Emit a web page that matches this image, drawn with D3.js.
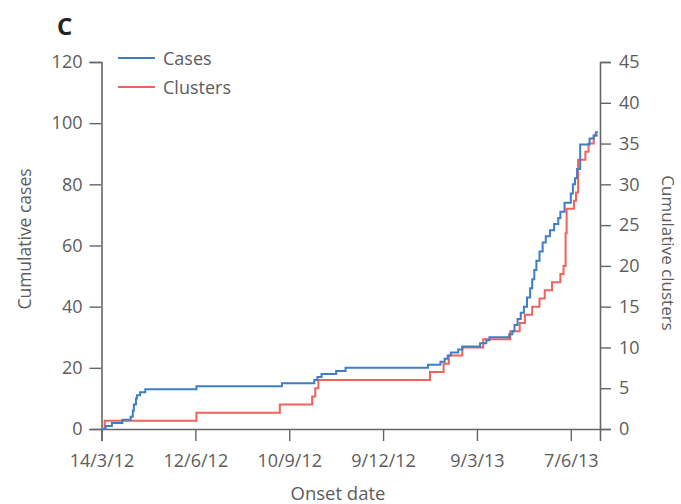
<!DOCTYPE html>
<html>
<head>
<meta charset="utf-8">
<script src="https://cdn.jsdelivr.net/npm/d3@7"></script>
<style>
  html, body { margin: 0; padding: 0; background: #fff; }
  svg { display: block; font-family: "Open Sans", "Noto Sans", sans-serif; }
</style>
</head>
<body>
<svg id="chart" width="681" height="504"></svg>
<script>
// ---- Data ----
const caseDates = [
  "2012-03-14","2012-03-18","2012-03-24","2012-04-03","2012-04-11","2012-04-13","2012-04-14",
  "2012-04-16","2012-04-17","2012-04-20","2012-04-25","2012-06-13","2012-09-03","2012-10-04",
  "2012-10-07","2012-10-11","2012-10-25","2012-11-03","2013-01-21","2013-02-02","2013-02-06",
  "2013-02-09","2013-02-12","2013-02-19","2013-02-23","2013-03-12","2013-03-18","2013-03-21",
  "2013-04-09","2013-04-12","2013-04-14","2013-04-17","2013-04-20","2013-04-23","2013-04-26",
  "2013-04-29","2013-05-01","2013-05-03","2013-05-05","2013-05-08","2013-05-11","2013-05-14",
  "2013-05-18","2013-05-22","2013-05-26","2013-05-28","2013-06-01","2013-06-07","2013-06-09",
  "2013-06-11","2013-06-13","2013-06-16","2013-06-25","2013-06-29","2013-07-01","2013-07-03"
];
const caseValues = [
  0,1,2,3,4,6,8,
  10,11,12,13,14,15,16,
  17,18,19,20,21,22,23,
  24,25,26,27,28,29,30,
  31,32,34,36,38,40,43,
  46,49,52,55,58,61,63,
  65,67,69,71,74,77,80,
  82,85,93,95,96,97,97
];
const clusterDates = [
  "2012-03-14","2012-03-17","2012-06-13","2012-09-01","2012-10-02","2012-10-05","2012-10-08",
  "2013-01-23","2013-02-05","2013-02-10","2013-02-23","2013-03-15","2013-04-10","2013-04-19",
  "2013-04-24","2013-05-01","2013-05-08","2013-05-13","2013-05-20","2013-05-28","2013-05-31",
  "2013-06-02","2013-06-03","2013-06-10","2013-06-12","2013-06-14","2013-06-21","2013-06-24",
  "2013-06-29","2013-07-03"
];
const clusterValues = [
  0,1,2,3,4,5,6,
  7,8,9,10,11,12,13,
  14,15,16,17,18,19,20,
  24,27,28,29,33,34,35,
  36,36
];
const xTickDates = ["2012-03-14","2012-06-12","2012-09-10","2012-12-09","2013-03-09","2013-06-07"];
const leftTicks = [0,20,40,60,80,100,120];
const rightTicks = [0,5,10,15,20,25,30,35,40,45];
const seriesNames = ["Cases","Clusters"];
const seriesColors = ["#3f7ec4","#f0625c"];

// ---- Drawing ----
const parse = d3.utcParse("%Y-%m-%d");
const svg = d3.select("#chart");
const textColor = "#5c5c5c";
const axisColor = "#666";

const x = d3.scaleUtc()
  .domain([parse("2012-03-14"), parse("2013-07-05")])
  .range([101.5, 600]);
const yL = d3.scaleLinear().domain([0,120]).range([429, 62]);
const yR = d3.scaleLinear().domain([0,45]).range([429, 62]);

function styleAxis(g) {
  g.selectAll("path.domain").attr("stroke", axisColor).attr("stroke-width", 1.6);
  g.selectAll(".tick line").attr("stroke", axisColor).attr("stroke-width", 1.4);
  g.selectAll(".tick text").attr("fill", textColor).attr("font-size", 18)
    .attr("font-family", "'Open Sans', sans-serif");
}

// bottom axis
svg.append("g").attr("transform", `translate(0,${yL(0)})`)
  .call(d3.axisBottom(x).tickValues(xTickDates.map(parse))
    .tickFormat(d3.utcFormat("%-d/%-m/%y")).tickSizeOuter(0).tickSize(12).tickPadding(13))
  .call(styleAxis);

// left axis
svg.append("g").attr("transform", `translate(${x.range()[0]},0)`)
  .call(d3.axisLeft(yL).tickValues(leftTicks).tickSizeOuter(0).tickSize(12).tickPadding(7))
  .call(styleAxis);

// right axis
svg.append("g").attr("transform", `translate(${x.range()[1]},0)`)
  .call(d3.axisRight(yR).tickValues(rightTicks).tickSizeOuter(0).tickSize(11).tickPadding(8))
  .call(styleAxis);

// lines
const caseData = caseDates.map((d,i) => ({date: parse(d), v: caseValues[i]}));
const clusterData = clusterDates.map((d,i) => ({date: parse(d), v: clusterValues[i]}));

svg.append("path").datum(clusterData)
  .attr("fill","none").attr("stroke", seriesColors[1]).attr("stroke-width", 2)
  .attr("d", d3.line().curve(d3.curveStepAfter).x(d => x(d.date)).y(d => yR(d.v)));
svg.append("path").datum(caseData)
  .attr("fill","none").attr("stroke", seriesColors[0]).attr("stroke-width", 2)
  .attr("d", d3.line().curve(d3.curveStepAfter).x(d => x(d.date)).y(d => yL(d.v)));

// axis titles
svg.append("text").attr("transform", "translate(31,239) rotate(-90)")
  .attr("text-anchor","middle").attr("fill", textColor).attr("font-size", 17.5)
  .text("Cumulative cases");
svg.append("text").attr("transform", "translate(662,253) rotate(90)")
  .attr("text-anchor","middle").attr("fill", textColor).attr("font-size", 17)
  .text("Cumulative clusters");
svg.append("text").attr("x", 338).attr("y", 500)
  .attr("text-anchor","middle").attr("fill", textColor).attr("font-size", 18.5)
  .text("Onset date");

// panel label
svg.append("text").attr("x", 57).attr("y", 35)
  .attr("fill", "#222").attr("font-size", 24).attr("font-weight", "bold")
  .text("C");

// legend
const legendY = [58, 87];
seriesNames.forEach((name, i) => {
  svg.append("line").attr("x1", 118).attr("x2", 155)
    .attr("y1", legendY[i]).attr("y2", legendY[i])
    .attr("stroke", seriesColors[i]).attr("stroke-width", 2);
  svg.append("text").attr("x", 163).attr("y", legendY[i] + 7)
    .attr("fill", textColor).attr("font-size", 18).text(name);
});
</script>
</body>
</html>
